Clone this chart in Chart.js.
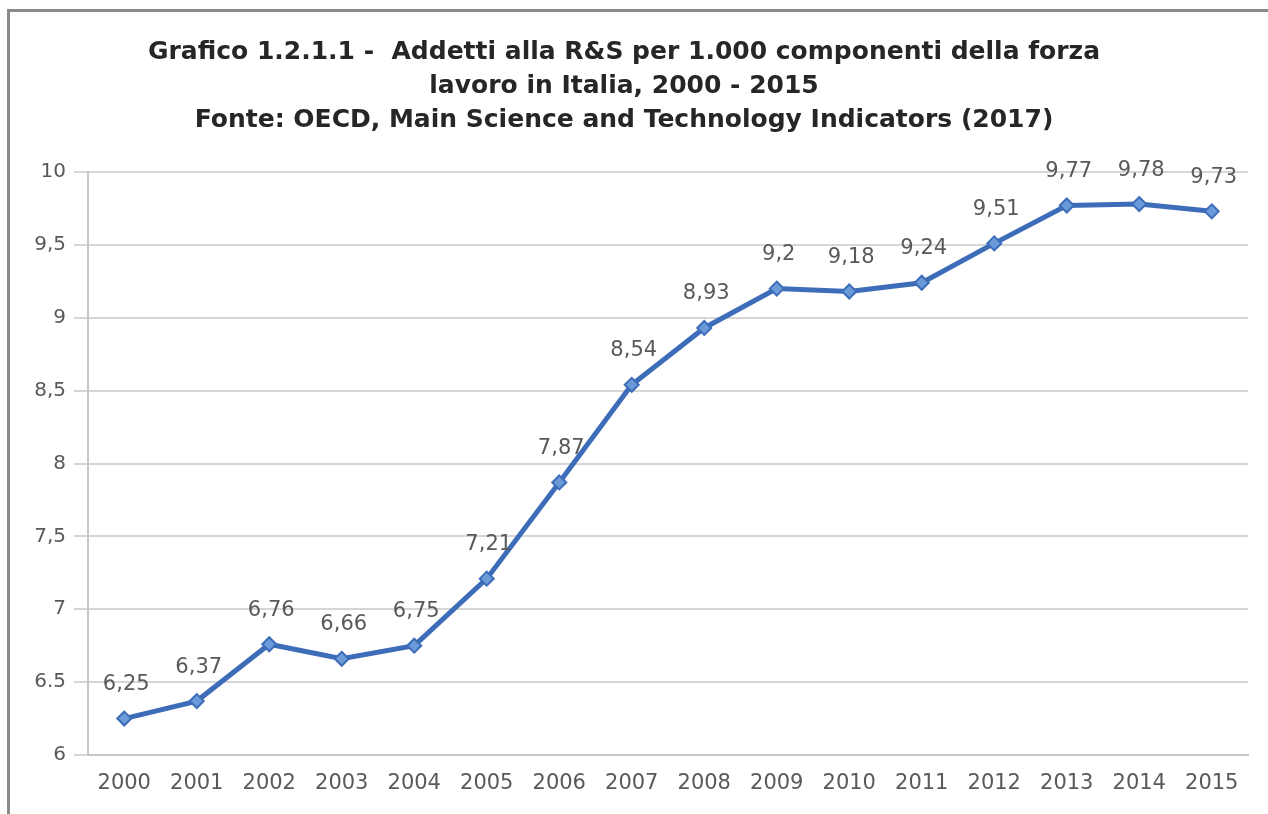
<!DOCTYPE html>
<html>
<head>
<meta charset="utf-8">
<script src="https://cdn.jsdelivr.net/npm/chart.js@4/dist/chart.umd.min.js"></script>
<style>
  html, body { margin: 0; padding: 0; background: #ffffff; }
  #wrap { position: relative; width: 1268px; height: 814px; overflow: hidden; }
  #frame { position: absolute; left: 7px; top: 9px; width: 1300px; height: 900px;
           border-left: 3px solid #8a8a8a; border-top: 3px solid #8a8a8a; pointer-events: none; }
  canvas { position: absolute; left: 0; top: 0; }
</style>
</head>
<body>
<div id="wrap">
  <canvas id="chart" width="1268" height="814"></canvas>
  <div id="frame"></div>
</div>
<script>
// Addetti alla R&S per 1.000 componenti della forza lavoro, Italia
const years = ['2000','2001','2002','2003','2004','2005','2006','2007','2008','2009','2010','2011','2012','2013','2014','2015'];
const addetti = [6.25, 6.37, 6.76, 6.66, 6.75, 7.21, 7.87, 8.54, 8.93, 9.2, 9.18, 9.24, 9.51, 9.77, 9.78, 9.73];
const yTickValues = [6, 6.5, 7, 7.5, 8, 8.5, 9, 9.5, 10];
const yTickLabels = ['6', '6.5', '7', '7,5', '8', '8,5', '9', '9,5', '10'];
const titleLines = [
  'Grafico 1.2.1.1 -  Addetti alla R&S per 1.000 componenti della forza',
  'lavoro in Italia, 2000 - 2015',
  'Fonte: OECD, Main Science and Technology Indicators (2017)'
];

const fmt = v => String(v).replace('.', ',');

// value labels above each marker
const valueLabels = {
  id: 'valueLabels',
  afterDatasetsDraw(chart) {
    const ctx = chart.ctx;
    const meta = chart.getDatasetMeta(0);
    ctx.save();
    ctx.font = '21px "DejaVu Sans"';
    ctx.fillStyle = '#595959';
    ctx.textAlign = 'center';
    ctx.textBaseline = 'middle';
    meta.data.forEach((pt, i) => {
      ctx.fillText(fmt(addetti[i]), pt.x + 2, pt.y - 34);
    });
    ctx.restore();
  }
};

new Chart(document.getElementById('chart'), {
  type: 'line',
  data: {
    labels: years,
    datasets: [{
      data: addetti,
      borderColor: '#3d6cb9',
      borderWidth: 5,
      pointStyle: 'rectRot',
      pointRadius: 7,
      pointBackgroundColor: '#6a9bd8',
      pointBorderColor: '#3d6cb9',
      pointBorderWidth: 2,
      tension: 0
    }]
  },
  options: {
    responsive: false,
    animation: false,
    layout: { padding: { top: 18, right: 20, bottom: 0, left: 0 } },
    plugins: {
      legend: { display: false },
      tooltip: { enabled: false },
      title: {
        display: true,
        text: titleLines,
        color: '#262626',
        font: { family: '"DejaVu Sans"', size: 25, weight: 'bold', lineHeight: 1.36 },
        padding: { top: 17, bottom: 35 }
      }
    },
    scales: {
      x: {
        offset: true,
        grid: { display: false, drawTicks: true, tickLength: 8, color: '#d0d0d0' },
        border: { display: true, color: '#c8c8c8', width: 2 },
        ticks: { color: '#595959', font: { family: '"DejaVu Sans"', size: 21 }, padding: 8, maxRotation: 0 },
        afterFit(scale) { scale.height = 59; }
      },
      y: {
        min: 6,
        max: 10,
        afterBuildTicks(scale) { scale.ticks = yTickValues.map(v => ({ value: v })); },
        grid: { color: '#d6d6d6', lineWidth: 2, tickLength: 14 },
        border: { display: true, color: '#c8c8c8', width: 2 },
        ticks: {
          color: '#595959',
          font: { family: '"DejaVu Sans"', size: 20 },
          padding: 8,
          callback(value) { const i = yTickValues.indexOf(value); return i >= 0 ? yTickLabels[i] : ''; }
        },
        afterFit(scale) { scale.width = 88; }
      }
    }
  },
  plugins: [valueLabels]
});
</script>
</body>
</html>
